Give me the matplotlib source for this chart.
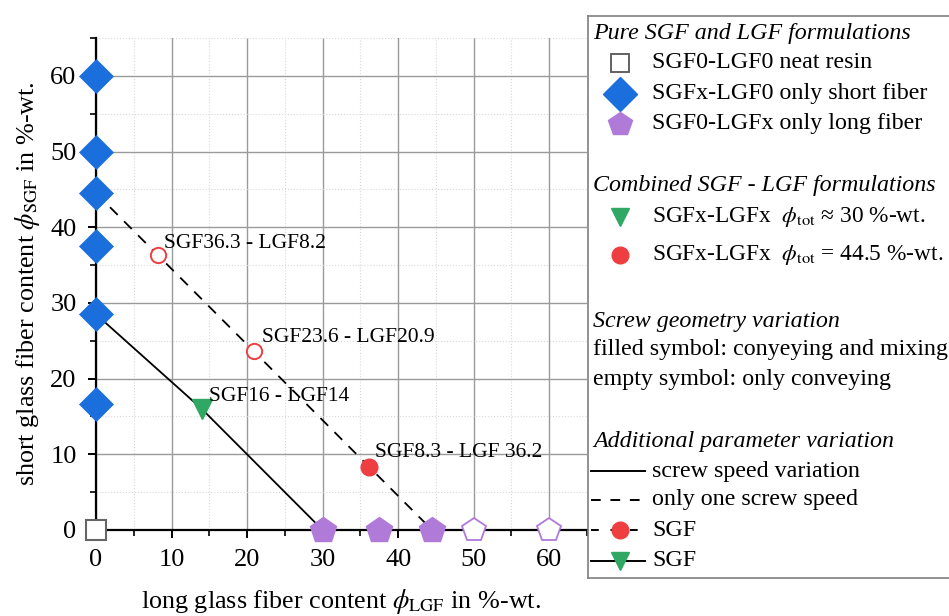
import matplotlib
matplotlib.use("Agg")
import matplotlib.pyplot as plt
from matplotlib.ticker import MultipleLocator

plt.rcParams["font.family"] = ["Liberation Serif", "DejaVu Serif"]
plt.rcParams["mathtext.fontset"] = "stix"

# formulation data (LGF content, SGF content) in %-wt.
neat_lgf = [0]
neat_sgf = [0]
sgf_only_sgf = [60, 50, 44.5, 37.5, 28.5, 16.7]
sgf_only_lgf = [0] * len(sgf_only_sgf)
lgf_filled = [30, 37.5, 44.5]
lgf_empty = [50, 60]
tri_lgf = [14]
tri_sgf = [16]
red_empty_lgf = [8.2, 20.9]
red_empty_sgf = [36.3, 23.6]
red_filled_lgf = [36.2]
red_filled_sgf = [8.3]

# connecting lines
line30_lgf = [0, 14, 30]
line30_sgf = [28.5, 16, 0]
line445_lgf = [0, 8.2, 20.9, 36.2, 44.5]
line445_sgf = [44.5, 36.3, 23.6, 8.3, 0]

labels = ["SGF36.3 - LGF8.2", "SGF23.6 - LGF20.9", "SGF16 - LGF14", "SGF8.3 - LGF 36.2"]
label_lgf = [9.0, 22.0, 15.0, 37.0]
label_sgf = [37.9, 25.4, 17.7, 10.2]

blue = "#1b6fdd"
purple = "#b07ad9"
green = "#2fa864"
red = "#ef3e42"

fig = plt.figure(figsize=(9.49, 6.16), dpi=100)
W, H = 949, 616
ax = fig.add_axes([96 / W, (H - 530) / H, (587 - 96) / W, (530 - 38) / H])

ax.set_xlim(0, 65)
ax.set_ylim(0, 65)
ax.xaxis.set_major_locator(MultipleLocator(10))
ax.xaxis.set_minor_locator(MultipleLocator(5))
ax.yaxis.set_major_locator(MultipleLocator(10))
ax.yaxis.set_minor_locator(MultipleLocator(5))
ax.grid(which="major", color="#9a9a9a", lw=1.0)
ax.grid(which="minor", color="#d8d8d8", lw=0.8, ls=":")
ax.set_axisbelow(True)
for s in ["top", "right"]:
    ax.spines[s].set_visible(False)
for s in ["left", "bottom"]:
    ax.spines[s].set_linewidth(1.6)
ax.tick_params(which="major", direction="out", length=6, width=1.4, labelsize=19, pad=8)
ax.tick_params(which="minor", direction="out", length=4, width=1.2)

ax.plot(line30_lgf, line30_sgf, color="black", lw=1.3, zorder=3)
ax.plot(line445_lgf, line445_sgf, color="black", lw=1.3, ls=(0, (6, 5)), zorder=3)

mk = dict(clip_on=False, zorder=5, ls="none")
ax.plot(neat_lgf, neat_sgf, marker="s", ms=14, mfc="white", mec="#666666", mew=1.5, **mk)
ax.plot(sgf_only_lgf, sgf_only_sgf, marker="D", ms=17, mfc=blue, mec=blue, mew=0.5, **mk)
ax.plot(lgf_filled, [0] * len(lgf_filled), marker="p", ms=19, mfc=purple, mec=purple, **mk)
ax.plot(lgf_empty, [0] * len(lgf_empty), marker="p", ms=18, mfc="white", mec=purple, mew=1.3, **mk)
ax.plot(tri_lgf, tri_sgf, marker="v", ms=14, mfc=green, mec=green, **mk)
ax.plot(red_empty_lgf, red_empty_sgf, marker="o", ms=11, mfc="white", mec=red, mew=1.4, **mk)
ax.plot(red_filled_lgf, red_filled_sgf, marker="o", ms=12, mfc=red, mec=red, **mk)

for t, x, y in zip(labels, label_lgf, label_sgf):
    ax.text(x, y, t, fontsize=15.5, va="center", ha="left", zorder=6)

ax.set_xlabel(r"long glass fiber content $\phi_{\rm LGF}$ in %-wt.", fontsize=18.8, labelpad=11)
ax.set_ylabel(r"short glass fiber content $\phi_{\rm SGF}$ in %-wt.", fontsize=18.8, labelpad=6)

# legend panel, laid out in pixel units
top, bottom, left = 16, 578, 588
lax = fig.add_axes([left / W, (H - bottom) / H, 0.5, (bottom - top) / H])
lax.set_xlim(left, left + 0.5 * W)
lax.set_ylim(bottom, top)
lax.set_xticks([])
lax.set_yticks([])
for s in lax.spines.values():
    s.set_edgecolor("#7f7f7f")
    s.set_linewidth(1.2)

fs = 17.3
hx, tx, mx = 593, 652, 620


def head(y, txt):
    lax.text(hx, y, txt, fontsize=fs, style="italic", va="center", ha="left")


def entry(y, txt, size=fs):
    lax.text(tx, y, txt, fontsize=size, va="center", ha="left")


head(33, "Pure SGF and LGF formulations")
lax.plot([mx], [63], marker="s", ms=13, mfc="white", mec="#555555", mew=1.3)
entry(63, "SGF0-LGF0 neat resin")
lax.plot([mx], [94], marker="D", ms=17, mfc=blue, mec=blue)
entry(94, "SGFx-LGF0 only short fiber")
lax.plot([mx], [124], marker="p", ms=18, mfc=purple, mec=purple)
entry(124, "SGF0-LGFx only long fiber")

head(185, "Combined SGF - LGF formulations")
lax.plot([mx], [217], marker="v", ms=13, mfc=green, mec=green)
entry(217, r"SGFx-LGFx  $\phi_{\rm tot}$ ≈ 30 %-wt.", 16.8)
lax.plot([mx], [255], marker="o", ms=12, mfc=red, mec=red)
entry(255, r"SGFx-LGFx  $\phi_{\rm tot}$ = 44.5 %-wt.", 16.8)

head(321, "Screw geometry variation")
lax.text(hx, 350, "filled symbol: conyeying and mixing", fontsize=fs, va="center", ha="left")
lax.text(hx, 380, "empty symbol: only conveying", fontsize=fs, va="center", ha="left")

head(441, "Additional parameter variation")
lax.plot([591, 645], [471, 471], color="black", lw=1.4)
entry(471, "screw speed variation")
lax.plot([591, 645], [500, 500], color="black", lw=1.4, ls=(0, (5, 5)))
entry(500, "only one screw speed")
lax.plot([591, 645], [530, 530], color="black", lw=1.4, ls=(0, (4, 6)))
lax.plot([620], [530], marker="o", ms=12, mfc=red, mec=red)
entry(530, "SGF")
lax.plot([591, 645], [561, 561], color="black", lw=1.4)
lax.plot([620], [561], marker="v", ms=13, mfc=green, mec=green)
entry(561, "SGF")

fig.savefig("out.png", dpi=100)
